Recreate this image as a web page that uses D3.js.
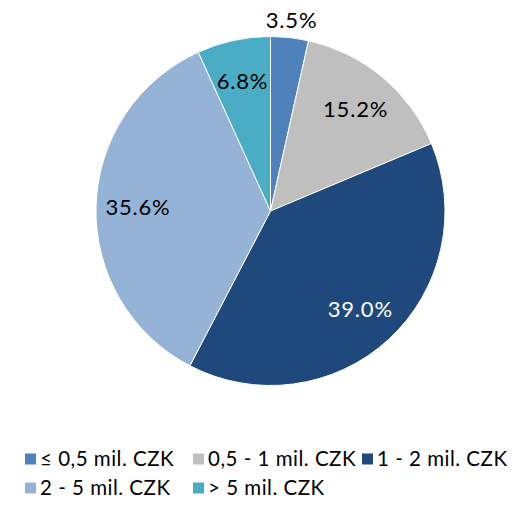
<!DOCTYPE html>
<html>
<head>
<meta charset="utf-8">
<script src="https://cdn.jsdelivr.net/npm/d3@7"></script>
<style>
  html, body { margin: 0; padding: 0; background: #fff; }
  svg { display: block; }
</style>
</head>
<body>
<svg id="chart" width="512" height="506"></svg>
<script>
const categories = ["≤ 0,5 mil. CZK", "0,5 - 1 mil. CZK", "1 - 2 mil. CZK", "2 - 5 mil. CZK", "> 5 mil. CZK"];
const values = [3.5, 15.2, 39.0, 35.6, 6.8];
const colors = ["#4F81BD", "#BFBFBF", "#1F497D", "#95B3D7", "#4BACC6"];
const labelColors = ["#000", "#000", "#fff", "#000", "#000"];

const svg = d3.select("#chart");
const cx = 270.5, cy = 211, R = 174.5;
const font = "Lato, 'DejaVu Sans', sans-serif";

const data = categories.map((c, i) => ({ cat: c, value: values[i], color: colors[i], lc: labelColors[i] }));

const pie = d3.pie().value(d => d.value).sort(null);
const arcs = pie(data);
const arc = d3.arc().innerRadius(0).outerRadius(R);
const inner = d3.arc().innerRadius(R * 0.76).outerRadius(R * 0.76);
const outer = d3.arc().innerRadius(R * 1.1).outerRadius(R * 1.1);

const g = svg.append("g").attr("transform", `translate(${cx},${cy})`);
g.selectAll("path").data(arcs).enter().append("path")
  .attr("d", arc)
  .attr("fill", d => d.data.color)
  .attr("stroke", "#fff")
  .attr("stroke-width", 1);

g.selectAll("text.lbl").data(arcs).enter().append("text")
  .attr("class", "lbl")
  .attr("transform", d => {
    const p = (d.data.value < 5 ? outer : inner).centroid(d);
    return `translate(${p[0]},${p[1]})`;
  })
  .attr("text-anchor", "middle")
  .attr("dy", "0.36em")
  .attr("font-family", font)
  .attr("font-size", 22)
  .attr("letter-spacing", 0.8)
  .attr("fill", d => d.data.lc)
  .text(d => d3.format(".1f")(d.data.value) + "%");

// Legend
const colX = [25, 193, 362];
const rowY = [459, 488];
const lg = svg.append("g");
data.forEach((d, i) => {
  const col = i % 3, row = Math.floor(i / 3);
  const x = colX[col], y = rowY[row];
  lg.append("rect").attr("x", x).attr("y", y - 5.5).attr("width", 11).attr("height", 11).attr("fill", d.color);
  lg.append("text").attr("x", x + 15).attr("y", y).attr("dy", "0.36em")
    .attr("font-family", font).attr("font-size", 20.5).attr("letter-spacing", 0.5).attr("fill", "#000")
    .text(d.cat);
});
</script>
</body>
</html>
